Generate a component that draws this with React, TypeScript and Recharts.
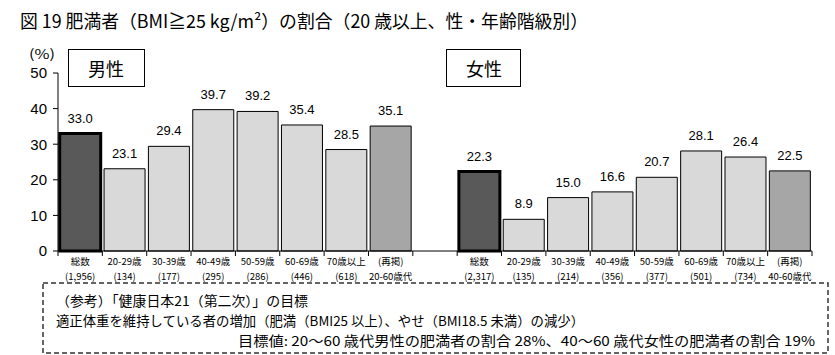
import { BarChart, Bar, XAxis, YAxis, Cell, LabelList } from "recharts";

// 男性 / 女性 (20歳以上) 肥満者の割合 (%)
const maleLabels = ["総数", "20-29歳", "30-39歳", "40-49歳", "50-59歳", "60-69歳", "70歳以上", "(再掲)"];
const maleCounts = ["(1,956)", "(134)", "(177)", "(295)", "(286)", "(446)", "(618)", "20-60歳代"];
const maleValues = [33.0, 23.1, 29.4, 39.7, 39.2, 35.4, 28.5, 35.1];

const femaleLabels = ["総数", "20-29歳", "30-39歳", "40-49歳", "50-59歳", "60-69歳", "70歳以上", "(再掲)"];
const femaleCounts = ["(2,317)", "(135)", "(214)", "(356)", "(377)", "(501)", "(734)", "40-60歳代"];
const femaleValues = [22.3, 8.9, 15.0, 16.6, 20.7, 28.1, 26.4, 22.5];

const barKinds = ["total", "age", "age", "age", "age", "age", "age", "recap"];
const yTicks = [0, 10, 20, 30, 40, 50];

const W = 835;
const H = 355;
const M = { top: 73, right: 23, bottom: 64, left: 0 };
const Y_W = 58;
const X_H = 40;

const data = [
  ...maleValues.map((v, i) => ({ key: "m" + i, line1: maleLabels[i], line2: maleCounts[i], value: v, kind: barKinds[i] })),
  { key: "gap", line1: "", line2: "", value: null, kind: "gap" },
  ...femaleValues.map((v, i) => ({ key: "f" + i, line1: femaleLabels[i], line2: femaleCounts[i], value: v, kind: barKinds[i] })),
];

const HALF = (W - M.left - M.right - Y_W) / data.length / 2;

const styles: Record<string, { fill: string; stroke: string; sw: number }> = {
  total: { fill: "#595959", stroke: "#000", sw: 3 },
  age: { fill: "#d9d9d9", stroke: "#000", sw: 1 },
  recap: { fill: "#a6a6a6", stroke: "#000", sw: 1 },
  gap: { fill: "none", stroke: "none", sw: 0 },
};

const cjk = '"Noto Sans CJK JP", "Liberation Sans", sans-serif';
const latin = '"Liberation Sans", "Noto Sans CJK JP", sans-serif';

function CategoryTick(props: any) {
  const { x, y, payload } = props;
  const i = payload.index;
  const d = data[i];
  if (!d || d.kind === "gap") return null;
  const last = i === 7 || i === data.length - 1;
  return (
    <g>
      <line x1={x - HALF} y1={y} x2={x - HALF} y2={y + 5} stroke="#000" />
      {last && <line x1={x + HALF} y1={y} x2={x + HALF} y2={y + 5} stroke="#000" />}
      <text textAnchor="middle" fontSize={9.5} fontFamily={cjk} fill="#000">
        <tspan x={x} y={y + 14}>{d.line1}</tspan>
        <tspan x={x} y={y + 28.5}>{d.line2}</tspan>
      </text>
    </g>
  );
}

function ValueLabel(props: any) {
  const { x, y, width, value } = props;
  if (value == null) return null;
  return (
    <text x={x + width / 2} y={y - 11} textAnchor="middle" fontSize={13} fontFamily={latin} fill="#000">
      {Number(value).toFixed(1)}
    </text>
  );
}

export default function App() {
  return (
    <div style={{ position: "absolute", left: 0, top: 0, width: W, height: H, background: "#fff" }}>
      <BarChart width={W} height={H} data={data} margin={M} barCategoryGap={1.7}>
        <XAxis
          dataKey="key"
          height={X_H}
          interval={0}
          tickSize={0}
          tickMargin={0}
          tickLine={false}
          axisLine={{ stroke: "#000" }}
          tick={<CategoryTick />}
        />
        <YAxis
          width={Y_W}
          domain={[0, 50]}
          ticks={yTicks}
          interval={0}
          tickSize={5}
          tickMargin={6}
          axisLine={{ stroke: "#000" }}
          tickLine={{ stroke: "#000" }}
          tick={{ fontSize: 15, fill: "#000", fontFamily: latin }}
        />
        <Bar dataKey="value" isAnimationActive={false}>
          {data.map((d) => (
            <Cell key={d.key} fill={styles[d.kind].fill} stroke={styles[d.kind].stroke} strokeWidth={styles[d.kind].sw} />
          ))}
          <LabelList dataKey="value" content={<ValueLabel />} />
        </Bar>
      </BarChart>

      <svg width={W} height={H} style={{ position: "absolute", left: 0, top: 0, pointerEvents: "none" }}>
        <text x={20} y={28} fontSize={18} fontFamily={cjk} fill="#000" textLength={568} lengthAdjust="spacingAndGlyphs">
          図 19  肥満者（BMI≧25 kg/m²）の割合（20 歳以上、性・年齢階級別）
        </text>
        <text x={29} y={58.5} fontSize={13} fontFamily={cjk} fill="#000" textLength={26} lengthAdjust="spacingAndGlyphs">
          (%)
        </text>

        <rect x={68.5} y={49.5} width={76} height={37} fill="#fff" stroke="#000" />
        <text x={106} y={75.5} textAnchor="middle" fontSize={18} fontFamily={cjk} fill="#000">男性</text>
        <rect x={446.5} y={49.5} width={74} height={37} fill="#fff" stroke="#000" />
        <text x={484} y={75.5} textAnchor="middle" fontSize={18} fontFamily={cjk} fill="#000">女性</text>

        <rect x={43} y={283} width={785} height={70} fill="none" stroke="#333" strokeWidth={1.5} strokeDasharray="5 3" />
        <text x={56} y={306} fontSize={13.5} fontFamily={cjk} fill="#000" textLength={252} lengthAdjust="spacingAndGlyphs">
          （参考）「健康日本21（第二次）」の目標
        </text>
        <text x={56} y={325.5} fontSize={13.5} fontFamily={cjk} fill="#000" textLength={528} lengthAdjust="spacingAndGlyphs">
          適正体重を維持している者の増加（肥満（BMI25 以上）、やせ（BMI18.5 未満）の減少）
        </text>
        <text x={238} y={345.5} fontSize={13.5} fontFamily={cjk} fill="#000" textLength={577} lengthAdjust="spacingAndGlyphs">
          目標値:  20～60 歳代男性の肥満者の割合  28%、40～60 歳代女性の肥満者の割合  19%
        </text>
      </svg>
    </div>
  );
}
